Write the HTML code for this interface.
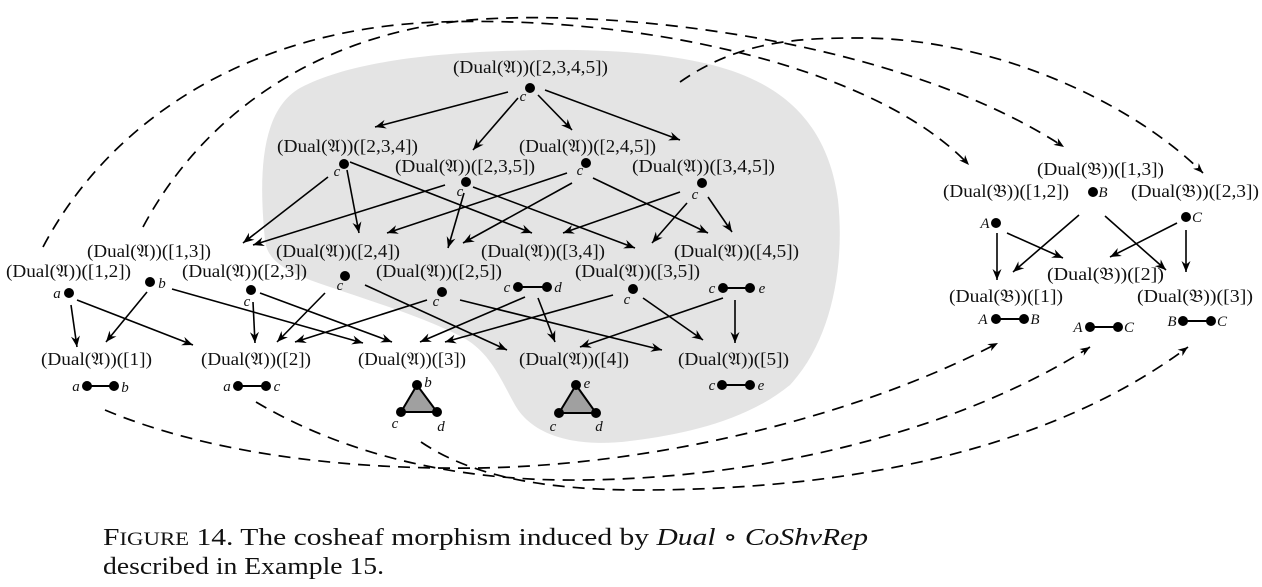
<!DOCTYPE html>
<html><head><meta charset="utf-8"><style>
html,body{margin:0;padding:0;background:#fff;}
svg{display:block;}
.l{font-family:"Liberation Serif","DejaVu Serif",serif;font-size:18px;fill:#111;}
.v{font-family:"Liberation Serif","DejaVu Serif",serif;font-size:15px;font-style:italic;fill:#111;text-anchor:middle;}
.cap{font-family:"Liberation Serif","DejaVu Serif",serif;font-size:24px;fill:#111;}
.s line{stroke:#000;stroke-width:1.6;marker-end:url(#a);}
.d path{fill:none;stroke:#000;stroke-width:1.7;stroke-dasharray:12 8;marker-end:url(#a2);}
</style></head><body>
<svg width="1262" height="587" viewBox="0 0 1262 587" xmlns="http://www.w3.org/2000/svg">
<defs>
<marker id="a" markerUnits="userSpaceOnUse" viewBox="-12 -6 13 12" refX="0" refY="0" markerWidth="13" markerHeight="12" orient="auto"><path d="M0,0 L-11,-4.5 L-7.5,0 L-11,4.5 Z" fill="#000"/></marker>
<marker id="a2" markerUnits="userSpaceOnUse" viewBox="-12 -6 13 12" refX="0" refY="0" markerWidth="13" markerHeight="12" orient="auto"><path d="M0,0 L-10,-4 L-7,0 L-10,4 Z" fill="#000"/></marker>
</defs>

<!-- grey blob -->
<path d="M265,240 C258,170 262,110 300,88 C350,62 430,52 540,50 C620,49 700,55 750,78 C800,100 830,140 838,200 C845,265 832,340 790,385 C745,422 680,435 630,441 C585,447 535,440 515,405 C500,378 490,352 462,337 C420,315 360,298 310,280 C280,268 267,258 265,240 Z" fill="#e4e4e4"/>

<!-- dashed curves -->
<g class="d">
<path d="M43,247 C110,120 250,28 440,22 C650,15 880,70 969,165"/>
<path d="M143,227 C200,120 310,35 470,20 C620,8 900,40 1064,147"/>
<path d="M680,82 C740,40 800,38 860,38 C990,38 1130,100 1203,173"/>
<path d="M105,410 C200,450 330,470 480,468 C650,465 850,420 998,343"/>
<path d="M256,402 C320,440 420,478 560,480 C760,482 960,430 1090,347"/>
<path d="M421,442 C470,475 540,490 640,490 C850,490 1050,450 1188,347"/>
</g>

<!-- solid arrows -->
<g class="s">
<line x1="508" y1="92" x2="375" y2="127"/>
<line x1="518" y1="98" x2="473" y2="150"/>
<line x1="538" y1="95" x2="572" y2="130"/>
<line x1="545" y1="90" x2="680" y2="140"/>

<line x1="328" y1="177" x2="243" y2="243"/>
<line x1="347" y1="170" x2="359" y2="233"/>
<line x1="350" y1="162" x2="532" y2="233"/>
<line x1="445" y1="185" x2="253" y2="245"/>
<line x1="464" y1="193" x2="448" y2="248"/>
<line x1="473" y1="187" x2="635" y2="248"/>
<line x1="567" y1="173" x2="387" y2="233"/>
<line x1="572" y1="183" x2="463" y2="243"/>
<line x1="593" y1="178" x2="708" y2="233"/>
<line x1="680" y1="192" x2="563" y2="233"/>
<line x1="687" y1="203" x2="652" y2="243"/>
<line x1="708" y1="197" x2="732" y2="232"/>

<line x1="71" y1="305" x2="77" y2="347"/>
<line x1="77" y1="300" x2="193" y2="345"/>
<line x1="147" y1="292" x2="106" y2="342"/>
<line x1="172" y1="289" x2="363" y2="343"/>
<line x1="253" y1="302" x2="255" y2="343"/>
<line x1="260" y1="293" x2="392" y2="342"/>
<line x1="325" y1="293" x2="277" y2="342"/>
<line x1="365" y1="285" x2="507" y2="350"/>
<line x1="427" y1="300" x2="295" y2="342"/>
<line x1="460" y1="300" x2="662" y2="350"/>
<line x1="525" y1="297" x2="420" y2="342"/>
<line x1="538" y1="298" x2="555" y2="342"/>
<line x1="613" y1="295" x2="445" y2="342"/>
<line x1="643" y1="298" x2="703" y2="340"/>
<line x1="723" y1="298" x2="580" y2="347"/>
<line x1="735" y1="300" x2="735" y2="343"/>

<line x1="997" y1="233" x2="997" y2="280"/>
<line x1="1007" y1="233" x2="1063" y2="258"/>
<line x1="1079" y1="215" x2="1013" y2="272"/>
<line x1="1105" y1="216" x2="1166" y2="270"/>
<line x1="1177" y1="223" x2="1110" y2="257"/>
<line x1="1186" y1="230" x2="1186" y2="272"/>
</g>

<!-- labels A side -->
<g class="l">
<text x="453" y="73" textLength="155" lengthAdjust="spacingAndGlyphs">(Dual(𝔄))([2,3,4,5])</text>
<text x="277" y="152" textLength="141" lengthAdjust="spacingAndGlyphs">(Dual(𝔄))([2,3,4])</text>
<text x="395" y="172" textLength="140" lengthAdjust="spacingAndGlyphs">(Dual(𝔄))([2,3,5])</text>
<text x="519" y="152" textLength="137" lengthAdjust="spacingAndGlyphs">(Dual(𝔄))([2,4,5])</text>
<text x="632" y="172" textLength="143" lengthAdjust="spacingAndGlyphs">(Dual(𝔄))([3,4,5])</text>
<text x="87" y="257" textLength="124" lengthAdjust="spacingAndGlyphs">(Dual(𝔄))([1,3])</text>
<text x="6" y="277" textLength="125" lengthAdjust="spacingAndGlyphs">(Dual(𝔄))([1,2])</text>
<text x="182" y="277" textLength="125" lengthAdjust="spacingAndGlyphs">(Dual(𝔄))([2,3])</text>
<text x="276" y="257" textLength="124" lengthAdjust="spacingAndGlyphs">(Dual(𝔄))([2,4])</text>
<text x="376" y="277" textLength="126" lengthAdjust="spacingAndGlyphs">(Dual(𝔄))([2,5])</text>
<text x="481" y="257" textLength="124" lengthAdjust="spacingAndGlyphs">(Dual(𝔄))([3,4])</text>
<text x="575" y="277" textLength="125" lengthAdjust="spacingAndGlyphs">(Dual(𝔄))([3,5])</text>
<text x="674" y="257" textLength="125" lengthAdjust="spacingAndGlyphs">(Dual(𝔄))([4,5])</text>
<text x="41" y="365" textLength="111" lengthAdjust="spacingAndGlyphs">(Dual(𝔄))([1])</text>
<text x="201" y="365" textLength="110" lengthAdjust="spacingAndGlyphs">(Dual(𝔄))([2])</text>
<text x="358" y="365" textLength="108" lengthAdjust="spacingAndGlyphs">(Dual(𝔄))([3])</text>
<text x="519" y="365" textLength="110" lengthAdjust="spacingAndGlyphs">(Dual(𝔄))([4])</text>
<text x="678" y="365" textLength="111" lengthAdjust="spacingAndGlyphs">(Dual(𝔄))([5])</text>
<!-- B side -->
<text x="1037" y="175" textLength="127" lengthAdjust="spacingAndGlyphs">(Dual(𝔅))([1,3])</text>
<text x="943" y="197" textLength="126" lengthAdjust="spacingAndGlyphs">(Dual(𝔅))([1,2])</text>
<text x="1131" y="197" textLength="128" lengthAdjust="spacingAndGlyphs">(Dual(𝔅))([2,3])</text>
<text x="1047" y="280" textLength="117" lengthAdjust="spacingAndGlyphs">(Dual(𝔅))([2])</text>
<text x="949" y="302" textLength="114" lengthAdjust="spacingAndGlyphs">(Dual(𝔅))([1])</text>
<text x="1137" y="302" textLength="116" lengthAdjust="spacingAndGlyphs">(Dual(𝔅))([3])</text>
</g>

<!-- dots & segments -->
<g fill="#000" stroke="#000" stroke-width="2">
<circle cx="530" cy="88" r="4"/>
<circle cx="344" cy="164" r="4"/>
<circle cx="466" cy="182" r="4"/>
<circle cx="586" cy="163" r="4"/>
<circle cx="702" cy="183" r="4"/>
<circle cx="150" cy="282" r="4"/>
<circle cx="69" cy="293" r="4"/>
<circle cx="251" cy="290" r="4"/>
<circle cx="345" cy="276" r="4"/>
<circle cx="442" cy="292" r="4"/>
<circle cx="633" cy="289" r="4"/>
<line x1="518" y1="287" x2="547" y2="287"/><circle cx="518" cy="287" r="4"/><circle cx="547" cy="287" r="4"/>
<line x1="723" y1="288" x2="750" y2="288"/><circle cx="723" cy="288" r="4"/><circle cx="750" cy="288" r="4"/>
<line x1="87" y1="386" x2="114" y2="386"/><circle cx="87" cy="386" r="4"/><circle cx="114" cy="386" r="4"/>
<line x1="238" y1="386" x2="266" y2="386"/><circle cx="238" cy="386" r="4"/><circle cx="266" cy="386" r="4"/>
<line x1="722" y1="385" x2="750" y2="385"/><circle cx="722" cy="385" r="4"/><circle cx="750" cy="385" r="4"/>
<polygon points="417,385 401,412 437,412" fill="#a0a0a0"/>
<circle cx="417" cy="385" r="4"/><circle cx="401" cy="412" r="4"/><circle cx="437" cy="412" r="4"/>
<polygon points="576,385 559,413 596,413" fill="#a0a0a0"/>
<circle cx="576" cy="385" r="4"/><circle cx="559" cy="413" r="4"/><circle cx="596" cy="413" r="4"/>
<circle cx="1093" cy="192" r="4"/>
<circle cx="996" cy="223" r="4"/>
<circle cx="1186" cy="217" r="4"/>
<line x1="996" y1="319" x2="1024" y2="319"/><circle cx="996" cy="319" r="4"/><circle cx="1024" cy="319" r="4"/>
<line x1="1090" y1="327" x2="1118" y2="327"/><circle cx="1090" cy="327" r="4"/><circle cx="1118" cy="327" r="4"/>
<line x1="1183" y1="321" x2="1211" y2="321"/><circle cx="1183" cy="321" r="4"/><circle cx="1211" cy="321" r="4"/>
</g>

<!-- italic vertex letters -->
<g class="v">
<text x="523" y="101">c</text>
<text x="337" y="176">c</text>
<text x="460" y="196">c</text>
<text x="580" y="175">c</text>
<text x="695" y="199">c</text>
<text x="162" y="288">b</text>
<text x="57" y="298">a</text>
<text x="247" y="306">c</text>
<text x="340" y="290">c</text>
<text x="436" y="306">c</text>
<text x="507" y="292">c</text>
<text x="558" y="292">d</text>
<text x="627" y="304">c</text>
<text x="712" y="293">c</text>
<text x="762" y="293">e</text>
<text x="76" y="391">a</text>
<text x="125" y="392">b</text>
<text x="227" y="391">a</text>
<text x="277" y="391">c</text>
<text x="428" y="387">b</text>
<text x="395" y="428">c</text>
<text x="441" y="431">d</text>
<text x="587" y="388">e</text>
<text x="553" y="431">c</text>
<text x="599" y="431">d</text>
<text x="712" y="390">c</text>
<text x="761" y="390">e</text>
<text x="1103" y="197">B</text>
<text x="985" y="228">A</text>
<text x="1197" y="222">C</text>
<text x="983" y="324">A</text>
<text x="1035" y="324">B</text>
<text x="1078" y="332">A</text>
<text x="1129" y="332">C</text>
<text x="1172" y="326">B</text>
<text x="1222" y="326">C</text>
</g>

<!-- caption -->
<text class="cap" x="103" y="545" textLength="765" lengthAdjust="spacingAndGlyphs">F<tspan font-size="18.5">IGURE</tspan> 14.  The cosheaf morphism induced by <tspan font-style="italic">Dual</tspan> ∘ <tspan font-style="italic">CoShvRep</tspan></text>
<text class="cap" x="103" y="574" textLength="281" lengthAdjust="spacingAndGlyphs">described in Example 15.</text>
</svg>
</body></html>
